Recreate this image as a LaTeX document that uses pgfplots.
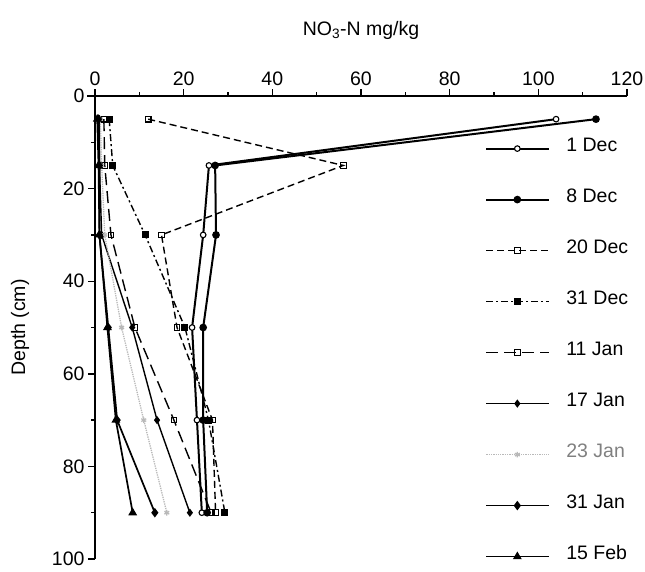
\documentclass[border=0pt]{standalone}
\usepackage{fontspec}
\setmainfont{Liberation Sans}
\usepackage{pgfplots}
\pgfplotsset{compat=1.18}

\newcommand{\lbl}{\fontsize{19.5}{22}\selectfont}

\begin{document}
\begin{tikzpicture}
\begin{axis}[
  name=ax,
  scale only axis,
  width=532pt, height=463pt,
  xmin=0, xmax=120, ymin=0, ymax=100,
  y dir=reverse,
  axis x line=top, axis y line=left,
  axis line style={-, line width=1.7pt},
  xtick={0,20,...,120}, ytick={0,20,...,100},
  minor xtick={10,30,...,110}, minor ytick={10,30,...,90},
  tick align=outside,
  major tick length=7pt, minor tick length=4pt,
  every tick/.style={black, line width=1.4pt},
  /pgf/number format/assume math mode=true,
  tick label style={font=\lbl},
  clip=false,
  legend cell align=left,
  legend image code/.code={%
    \draw[mark repeat=2, mark phase=2, #1]
      plot coordinates {(0pt,0pt) (31pt,0pt) (63pt,0pt)};},
  legend style={
    draw=none, fill=none, inner sep=0pt,
    font=\lbl,
    at={(axis cs:88,9.8)}, anchor=north west,
    row sep=37pt, column sep=16pt,
    nodes={inner sep=0pt, text height=10pt, text depth=4pt},
  },
]
% 1 Dec
\addplot[black, line width=2pt, mark=*, mark options={fill=white, line width=1.1pt, scale=1.4}]
  coordinates {(104,5) (25.7,15) (24.4,30) (21.9,50) (23.0,70) (24.1,90)};
\addlegendentry{1 Dec}
% 8 Dec
\addplot[black, line width=2pt, mark=*, mark options={scale=1.4}]
  coordinates {(113,5) (27.1,15) (27.3,30) (24.4,50) (24.4,70) (25.3,90)};
\addlegendentry{8 Dec}
% 20 Dec
\addplot[black, line width=1.4pt, dash pattern=on 7pt off 4pt, mark=square, mark options={solid, fill=white, line width=1.1pt, scale=1.4}]
  coordinates {(12,5) (56,15) (15,30) (18.5,50) (26.5,70) (27.2,90)};
\addlegendentry{20 Dec}
% 31 Dec
\addplot[black, line width=1.4pt, dash pattern=on 7pt off 3pt on 2pt off 3pt, mark=square*, mark options={solid, scale=1.4}]
  coordinates {(3.2,5) (4.0,15) (11.3,30) (20.3,50) (25.6,70) (29.3,90)};
\addlegendentry{31 Dec}
% 11 Jan
\addplot[black, line width=1.4pt, dash pattern=on 12pt off 6pt, mark=square, mark options={solid, fill=white, line width=1.1pt, scale=1.4}]
  coordinates {(2.0,5) (2.2,15) (3.6,30) (9.0,50) (17.8,70) (26.2,90)};
\addlegendentry{11 Jan}
% 17 Jan
\addplot[black, line width=1.4pt, mark=diamond*, mark options={scale=1.5}]
  coordinates {(1.0,5) (1.0,15) (1.5,30) (8.4,50) (14.0,70) (21.4,90)};
\addlegendentry{17 Jan}
% 23 Jan
\addplot[gray!55, line width=1.3pt, densely dotted, mark=asterisk, mark options={solid, scale=1.4}]
  coordinates {(1.2,5) (1.5,15) (2.2,30) (6.0,50) (11.0,70) (16.2,90)};
\addlegendentry{\textcolor{gray}{23 Jan}}
% 31 Jan
\addplot[black, line width=1.7pt, mark=diamond*, mark options={scale=1.7}]
  coordinates {(0.8,5) (1.0,15) (1.0,30) (3.0,50) (5.0,70) (13.5,90)};
\addlegendentry{31 Jan}
% 15 Feb
\addplot[black, line width=1.7pt, mark=triangle*, mark options={scale=1.7}]
  coordinates {(0.5,5) (0.8,15) (1.0,30) (2.8,50) (4.7,70) (8.5,90)};
\addlegendentry{15 Feb}
% short stub of the top axis line left of the depth axis
\draw[line width=1.7pt] (axis cs:0,0) -- ++(-8pt,0pt);
\end{axis}
\node[font=\lbl] at ([yshift=66pt]ax.north) {NO\textsubscript{3}-N mg/kg};
\node[font=\lbl, rotate=90] at ([xshift=-75pt]ax.west) {Depth (cm)};
\pgfresetboundingbox
\path ([xshift=-95pt,yshift=96pt]ax.north west) rectangle ([xshift=18pt,yshift=-12pt]ax.south east);
\end{tikzpicture}
\end{document}
